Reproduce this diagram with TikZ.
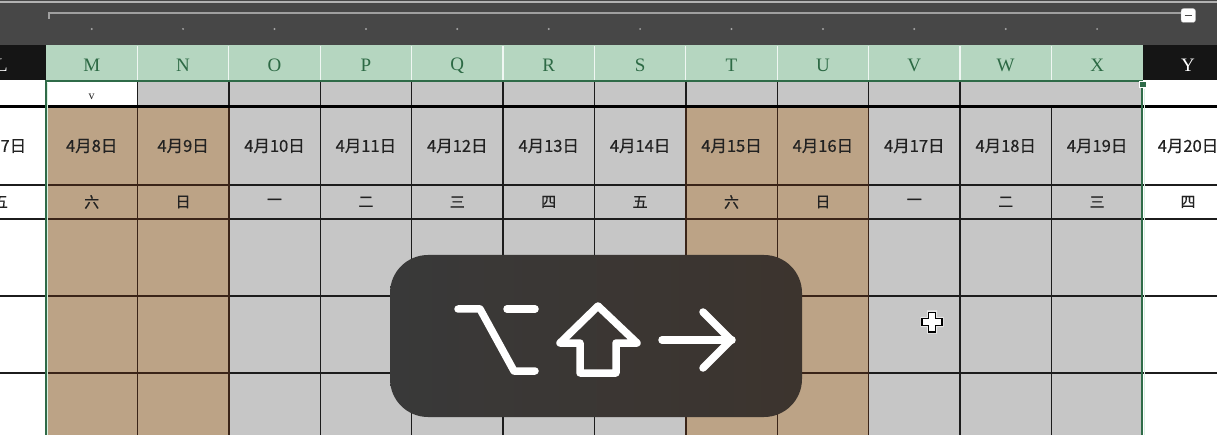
\documentclass[tikz,border=0pt]{standalone}
\usepackage{fontspec}
\setmainfont{Liberation Serif}
\newfontfamily\cjk[FakeBold=0.6]{Noto Sans CJK SC}
\definecolor{topbar}{HTML}{474747}
\definecolor{hgreen}{HTML}{B5D6C0}
\definecolor{htext}{HTML}{2D6A45}
\definecolor{hblack}{HTML}{151515}
\definecolor{cgray}{HTML}{C6C6C6}
\definecolor{ctan}{HTML}{BCA386}
\definecolor{lbrown}{HTML}{3A2418}
\definecolor{lblack}{HTML}{1C1C1C}
\definecolor{selgreen}{HTML}{2F6B48}
\definecolor{mint}{HTML}{D8F0E0}
\definecolor{ov}{HTML}{393939}
\definecolor{ovb}{HTML}{3C342E}
\definecolor{txt}{HTML}{222222}
\begin{document}
\begin{tikzpicture}[x=1pt,y=-1pt,
  colhead/.style={font=\fontsize{19}{19}\selectfont, text=htext, inner sep=0pt},
  colheadblk/.style={font=\fontsize{19}{19}\selectfont, text=white, inner sep=0pt},
  datecell/.style={font=\cjk\fontsize{16.5}{17}\selectfont, text=txt, inner sep=0pt},
  daycell/.style={font=\cjk\fontsize{15}{15}\selectfont, text=txt, inner sep=0pt},
  sym/.style={draw=white, line width=7.5, line cap=round, line join=round},
  gridline/.style={line width=1.4}]
\useasboundingbox (0,0) rectangle (1217,435);
\clip (0,0) rectangle (1217,435);
\fill[white] (0,0) rectangle (1217,435);
% top bar
\fill[topbar] (0,0) rectangle (1217,45);
\draw[gray!60, line width=1.5] (0,2) -- (1217,2);
\draw[gray!75, line width=2.2] (49,19) -- (49,13) -- (1182,13);
\filldraw[fill=white, draw=gray!70, rounded corners=2.5] (1181,8.5) rectangle (1195.5,22.5);
\draw[topbar, line width=1.8] (1184.5,15.5) -- (1192,15.5);
\foreach \i in {0,...,11} {
  \fill[gray!70] ({46+91.4*\i+45.7},29) circle (1.1);
}
% header row
\fill[hblack] (0,45) rectangle (46,80);
\fill[hgreen] (46,45) rectangle (1143,80);
\fill[hblack] (1143,45) rectangle (1217,80);
\foreach \i in {1,...,11} {
  \draw[white!80!hgreen, line width=1.2] ({46+91.4*\i},46) -- ({46+91.4*\i},80);
}
\node[colheadblk] (hL) at (2,65.5) {L};
\node[colheadblk] (hY) at (1188,65.5) {Y};
\foreach \l [count=\c from 0] in {M,N,O,P,Q,R,S,T,U,V,W,X} {
  \node[colhead] (h\l) at ({46+91.4*\c+45.7},65.5) {\l};
}
% cell fills
\foreach \i in {0,...,11} {
  \pgfmathsetmacro{\xa}{46+91.4*\i}
  \pgfmathsetmacro{\xb}{46+91.4*(\i+1)}
  \ifnum\i=0 \else \fill[cgray] (\xa,82) rectangle (\xb,106); \fi
  \ifnum\i=0 \def\cc{ctan}\else\ifnum\i=1 \def\cc{ctan}\else\ifnum\i=7 \def\cc{ctan}\else\ifnum\i=8 \def\cc{ctan}\else\def\cc{cgray}\fi\fi\fi\fi
  \fill[\cc] (\xa,108) rectangle (\xb,435);
}
% horizontal lines
\foreach \y in {185,219,296,373} {
  \draw[lblack, gridline] (0,\y) -- (1217,\y);
  \draw[lbrown, gridline] (46,\y) -- (228.8,\y);
  \draw[lbrown, gridline] (685.8,\y) -- (868.6,\y);
}
% vertical lines
\foreach \i in {1,...,11} {
  \pgfmathsetmacro{\xv}{46+91.4*\i}
  \ifnum\i=1 \def\lc{lbrown}\else\ifnum\i=2 \def\lc{lbrown}\else\ifnum\i=7 \def\lc{lbrown}\else\ifnum\i=8 \def\lc{lbrown}\else\ifnum\i=9 \def\lc{lbrown}\else\def\lc{lblack}\fi\fi\fi\fi\fi
  \draw[\lc, gridline] (\xv,108) -- (\xv,435);
  \ifnum\i=11 \else \draw[lblack, gridline] (\xv,82) -- (\xv,106); \fi
}
\draw[black, line width=3] (0,107) -- (1217,107);
% row 1 text
\node[font=\fontsize{12}{12}\selectfont, text=txt, inner sep=0pt] (vmark) at (91.7,96.5) {v};
% dates
\node[datecell] (dL) at (0.5,146) {4月7日};
\node[datecell] (dY) at (1188,146) {4月20日};
\foreach \dd [count=\c from 0] in {8,...,19} {
  \node[datecell] (d\dd) at ({46+91.4*\c+45.7},146) {4月{\dd}日};
}
% weekdays
\node[daycell] (wL) at (0.5,202) {五};
\node[daycell] (wY) at (1188,202) {四};
\foreach \w [count=\c from 0] in {六,日,一,二,三,四,五,六,日,一,二,三} {
  \node[daycell] (w\c) at ({46+91.4*\c+45.7},202) {\w};
}
% selection
\draw[selgreen, line width=2.2] (46,80) -- (46,435);
\draw[selgreen, line width=2.2] (1142,82) -- (1142,435);
\draw[selgreen, line width=2.2] (45,81) -- (1143,81);
\draw[mint, line width=1] (47.8,83) -- (47.8,435);
\draw[mint, line width=1] (1144,89) -- (1144,435);
\filldraw[fill=selgreen, draw=white, line width=1] (1139.5,81.5) rectangle (1146,88);
% overlay
\shade[rounded corners=38, left color=ov, middle color=ov, right color=ovb] (390,255) rectangle (802,417);
\draw[sym] (458,309) -- (480,309) -- (514,371) -- (535,371);
\draw[sym] (507,309) -- (535,309);
\draw[sym] (598,306) -- (637,343) -- (616,343) -- (616,373) -- (580,373) -- (580,343) -- (560,343) -- cycle;
\draw[sym] (662,340) -- (732,340);
\draw[sym] (703,312) -- (731,340) -- (703,368);
% cursor
\fill[white, opacity=0.6] (927,310.5)--(937,310.5)--(937,317)--(943.5,317)--(943.5,327)--(937,327)--(937,333.5)--(927,333.5)--(927,327)--(920.5,327)--(920.5,317)--(927,317)--cycle;
\filldraw[fill=white, draw=black, line width=1.1] (928.5,312.5)--(935.5,312.5)--(935.5,318.5)--(942,318.5)--(942,325.5)--(935.5,325.5)--(935.5,332)--(928.5,332)--(928.5,325.5)--(922,325.5)--(922,318.5)--(928.5,318.5)--cycle;
\end{tikzpicture}
\end{document}
